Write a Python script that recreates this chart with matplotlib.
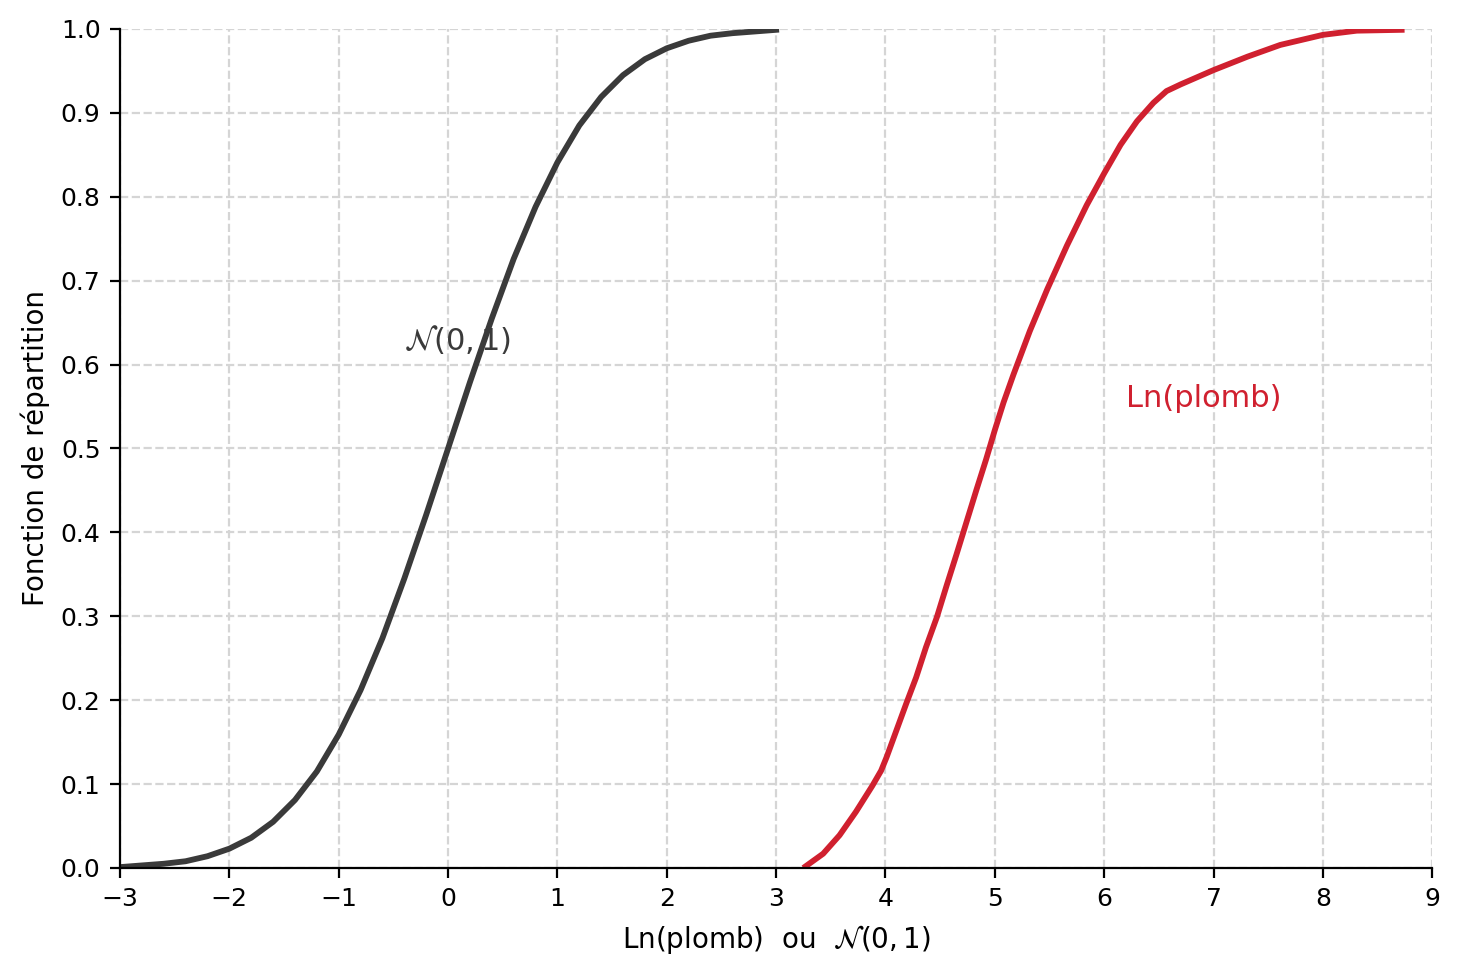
import numpy as np
import matplotlib.pyplot as plt

# fonction de répartition N(0,1)
x_norm = [-3.0, -2.8, -2.6, -2.4, -2.2, -2.0, -1.8, -1.6, -1.4, -1.2, -1.0, -0.8, -0.6, -0.4, -0.2,
          0.0, 0.2, 0.4, 0.6, 0.8, 1.0, 1.2, 1.4, 1.6, 1.8, 2.0, 2.2, 2.4, 2.6, 2.8, 3.0]
y_norm = [0.001, 0.003, 0.005, 0.008, 0.014, 0.023, 0.036, 0.055, 0.081, 0.115, 0.159, 0.212, 0.274,
          0.345, 0.421, 0.500, 0.579, 0.655, 0.726, 0.788, 0.841, 0.885, 0.919, 0.945, 0.964, 0.977,
          0.986, 0.992, 0.995, 0.997, 0.999]

# fonction de répartition empirique de Ln(plomb)
x_plomb = [3.27, 3.43, 3.58, 3.73, 3.88, 3.96, 4.01, 4.10, 4.19, 4.28, 4.37, 4.47, 4.56, 4.65,
           4.74, 4.83, 4.92, 5.00, 5.08, 5.17, 5.32, 5.48, 5.66, 5.84, 6.00, 6.15, 6.30, 6.45,
           6.57, 6.70, 7.00, 7.31, 7.61, 8.00, 8.31, 8.72]
y_plomb = [0.002, 0.017, 0.039, 0.067, 0.098, 0.116, 0.132, 0.164, 0.196, 0.227, 0.263, 0.299,
           0.337, 0.374, 0.412, 0.450, 0.487, 0.522, 0.555, 0.588, 0.640, 0.690, 0.742, 0.790,
           0.828, 0.862, 0.890, 0.912, 0.926, 0.934, 0.951, 0.967, 0.981, 0.993, 0.998, 0.999]

c_norm = '#3a3a3a'
c_plomb = '#d0202f'

fig = plt.figure(figsize=(7.3, 4.88), dpi=200)
ax = fig.add_subplot(111)
fig.subplots_adjust(left=0.0822, right=0.981, top=0.9703, bottom=0.1107)

ax.plot(x_norm, y_norm, color=c_norm, linewidth=2.1, solid_joinstyle='round')
ax.plot(x_plomb, y_plomb, color=c_plomb, linewidth=2.1, solid_joinstyle='round')

ax.text(-0.4, 0.63, r'$\mathcal{N}(0,1)$', color=c_norm, fontsize=11, va='center')
ax.text(6.2, 0.56, 'Ln(plomb)', color=c_plomb, fontsize=11, va='center')

ax.set_xlim(-3, 9)
ax.set_ylim(0, 1)
ax.set_xticks(np.arange(-3, 10, 1))
ax.set_yticks(np.arange(0, 1.01, 0.1))
ax.set_yticklabels(['%.1f' % v for v in np.arange(0, 1.01, 0.1)])
ax.tick_params(labelsize=9)

ax.grid(True, linestyle='--', color='#d5d5d5', linewidth=0.8)
ax.set_axisbelow(True)
ax.spines['top'].set_visible(False)
ax.spines['right'].set_visible(False)

ax.set_xlabel(r'Ln(plomb)  ou  $\mathcal{N}(0,1)$', fontsize=10)
ax.set_ylabel('Fonction de répartition', fontsize=10)

plt.savefig('out.png', dpi=200)
